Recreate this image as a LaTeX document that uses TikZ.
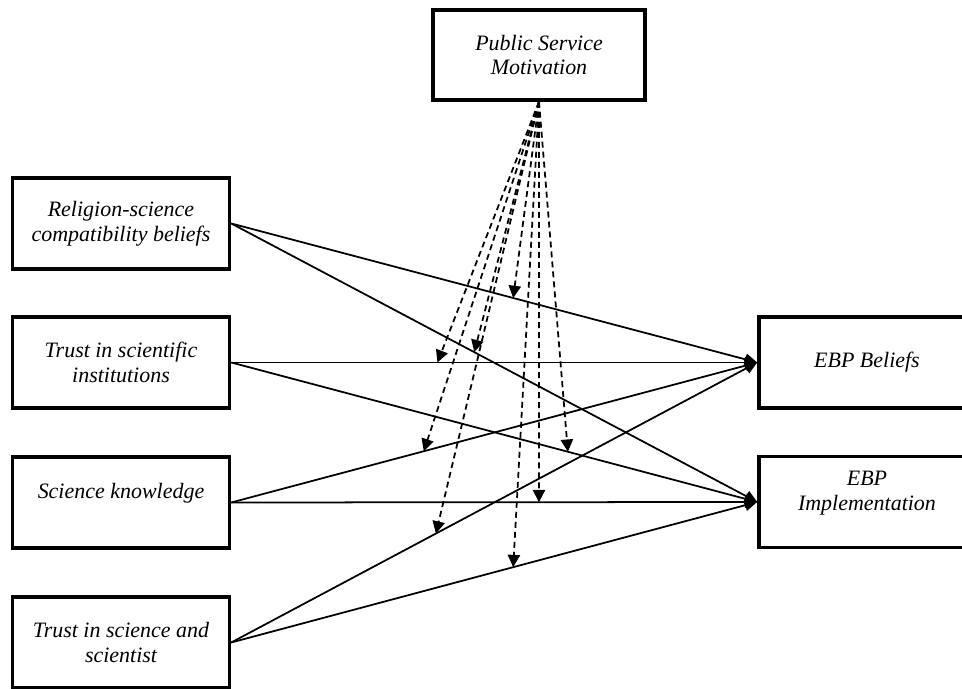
\documentclass[tikz,border=0pt]{standalone}
\usepackage{fontspec}
\setmainfont{Liberation Serif}
\usetikzlibrary{arrows.meta}

\tikzset{every picture/.style={line width=1pt}}
\tikzset{var box/.style={draw, line width=2pt, minimum width=4.34cm, minimum height=1.82cm,
    align=center, inner sep=2pt, font=\fontsize{12.5}{14.2}\selectfont\itshape}}
\tikzset{path arrow/.style={-{Triangle[length=7pt,width=6.5pt]}}}
\tikzset{mod arrow/.style={dash pattern=on 3.4pt off 2.3pt, -{Triangle[length=7pt,width=7pt]}}}
\newcommand{\moder}[1]{\draw[mod arrow] (psm.south) -- (#1);}

\begin{document}
\begin{tikzpicture}
        \useasboundingbox (0,0) rectangle (19.24,13.78);
        \node[var box, minimum width=4.24cm, minimum height=1.8cm] (psm) at (10.78,12.68) {Public Service\\Motivation};
        \node[var box] (rel) at (2.42,9.31) {Religion-science\\compatibility beliefs};
        \node[var box] (tsi) at (2.42,6.53) {Trust in scientific\\institutions};
        \node[var box, text depth=0.45cm] (sk) at (2.42,3.73) {Science knowledge};
        \node[var box] (tss) at (2.42,0.93) {Trust in science and\\scientist};
        \node[var box, minimum width=4.32cm] (ebpb) at (17.34,6.53) {EBP Beliefs};
        \node[var box, minimum width=4.32cm, text depth=0.45cm] (ebpi) at (17.34,3.74) {EBP\\Implementation};

        \draw[path arrow] (rel.east) -- coordinate[pos=0.536] (m1) (ebpb.west);
        \draw[path arrow] (rel.east) -- coordinate[pos=0.462] (m2) (ebpi.west);
        \draw[path arrow] (tsi.east) -- coordinate[pos=0.392] (m3) (ebpb.west);
        \draw[path arrow] (tsi.east) -- coordinate[pos=0.640] (m4) (ebpi.west);
        \draw[path arrow] (sk.east) -- coordinate[pos=0.366] (m5) (ebpb.west);
        \draw[path arrow] (sk.east) -- coordinate[pos=0.585] (m6) (ebpi.west);
        \draw[path arrow] (tss.east) -- coordinate[pos=0.389] (m7) (ebpb.west);
        \draw[path arrow] (tss.east) -- coordinate[pos=0.536] (m8) (ebpi.west);

        \moder{m1}
        \moder{m2}
        \moder{m3}
        \moder{m4}
        \moder{m5}
        \moder{m6}
        \moder{m7}
        \moder{m8}
    \end{tikzpicture}
\end{document}
